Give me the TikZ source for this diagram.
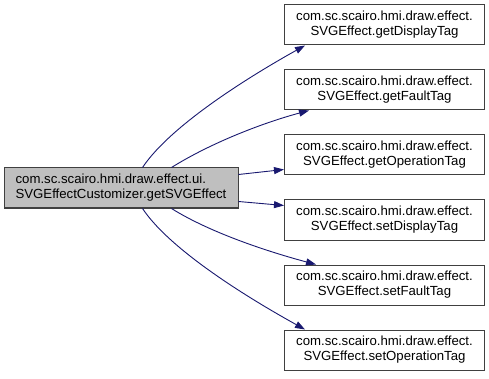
\documentclass[tikz,border=0pt]{standalone}
\usepackage{fontspec}
\setmainfont{Liberation Sans}
\usetikzlibrary{arrows.meta}
\definecolor{edgeblue}{RGB}{25,25,112}
\definecolor{boxline}{RGB}{64,64,64}
\definecolor{rootfill}{RGB}{191,191,191}
\begin{document}
\begin{tikzpicture}[x=1pt,y=-1pt,
  fn/.style={draw=boxline,line width=1pt,fill=white,minimum width=200pt,minimum height=40pt,
    inner sep=0pt,align=center,font=\fontsize{13.2}{15}\selectfont},
  rootbox/.style={fn,fill=rootfill,minimum width=234pt,align=left},
  call/.style={draw=edgeblue,line width=0.9pt,-{Triangle[length=10pt,width=7pt]}}]
\useasboundingbox (0,0) rectangle (489,379);
\fill[white] (0,0) rectangle (489,379);

\node[rootbox] (src) at (121,188) {com.sc.scairo.hmi.draw.effect.ui.\\SVGEffectCustomizer.getSVGEffect};

\node[fn] (t1) at (384.5,25)  {com.sc.scairo.hmi.draw.effect.\\SVGEffect.getDisplayTag};
\node[fn] (t2) at (384.5,90)  {com.sc.scairo.hmi.draw.effect.\\SVGEffect.getFaultTag};
\node[fn] (t3) at (384.5,155) {com.sc.scairo.hmi.draw.effect.\\SVGEffect.getOperationTag};
\node[fn] (t4) at (384.5,220) {com.sc.scairo.hmi.draw.effect.\\SVGEffect.setDisplayTag};
\node[fn] (t5) at (384.5,285) {com.sc.scairo.hmi.draw.effect.\\SVGEffect.setFaultTag};
\node[fn] (t6) at (384.5,350) {com.sc.scairo.hmi.draw.effect.\\SVGEffect.setOperationTag};

% calls leaving the top of the caller
\draw[call] ([xshift=139pt]src.north west) .. controls +(30,-45) and +(-45,25) .. ([xshift=21pt]t1.south west);
\draw[call] ([xshift=168pt]src.north west) .. controls +(40,-25) and +(-45,12) .. ([xshift=25pt]t2.south west);
% calls leaving the right side
\draw[call] ([yshift=-7pt]src.north east) -- ([yshift=6pt]t3.south west);
\draw[call] ([yshift=7pt]src.south east) -- ([yshift=-6pt]t4.north west);
% calls leaving the bottom
\draw[call] ([xshift=168pt]src.south west) .. controls +(40,25) and +(-45,-12) .. ([xshift=32pt]t5.north west);
\draw[call] ([xshift=139pt]src.south west) .. controls +(30,45) and +(-45,-25) .. ([xshift=21pt]t6.north west);
\end{tikzpicture}
\end{document}
